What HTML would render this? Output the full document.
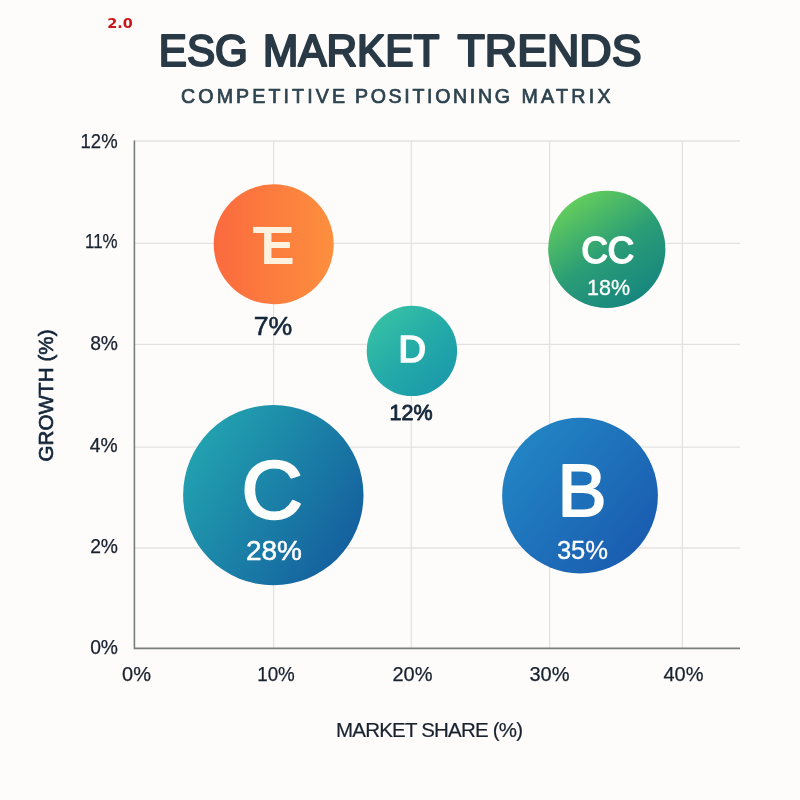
<!DOCTYPE html>
<html lang="en">
<head>
<meta charset="utf-8">
<title>ESG Market Trends</title>
<style>
html,body{margin:0;padding:0;background:#fdfcfa;}
body{width:800px;height:800px;overflow:hidden;}
svg{display:block;}
text{font-family:"Liberation Sans",sans-serif;}
.tick{font-size:19.3px;fill:#19222f;stroke:#19222f;stroke-width:0.25;}
.axis{font-size:18px;fill:#19222f;stroke:#19222f;stroke-width:0.2;}
.w{fill:#fefefd;stroke:#fefefd;stroke-linejoin:round;}
.d{fill:#14263a;stroke:#14263a;stroke-linejoin:round;}
</style>
</head>
<body>
<svg width="800" height="800" viewBox="0 0 800 800">
<defs>
<linearGradient id="gE" x1="0" y1="0" x2="1" y2="0"><stop offset="0" stop-color="#fb6a3e"/><stop offset="1" stop-color="#fd8f3e"/></linearGradient>
<linearGradient id="gD" x1="0.15" y1="0.1" x2="0.85" y2="0.9"><stop offset="0" stop-color="#36c0a5"/><stop offset="0.5" stop-color="#24aba8"/><stop offset="1" stop-color="#1c99aa"/></linearGradient>
<linearGradient id="gCC" x1="0.2" y1="0.05" x2="0.8" y2="0.95"><stop offset="0" stop-color="#66d05b"/><stop offset="0.52" stop-color="#2b9d76"/><stop offset="1" stop-color="#15857f"/></linearGradient>
<linearGradient id="gC" x1="0.05" y1="0.2" x2="0.95" y2="0.78"><stop offset="0" stop-color="#22a3b0"/><stop offset="1" stop-color="#145f9e"/></linearGradient>
<linearGradient id="gB" x1="0.1" y1="0.15" x2="0.92" y2="0.82"><stop offset="0" stop-color="#2285c4"/><stop offset="1" stop-color="#1a5cb0"/></linearGradient>
</defs>
<rect width="800" height="800" fill="#fdfcfa"/>

<!-- watermark -->
<text id="wm" x="107.2" y="27.6" style="font-family:'DejaVu Sans',sans-serif;font-weight:bold;font-size:14.4px;fill:#cc1519;">2.0</text>

<!-- titles -->
<g style="font-size:44px;fill:#293a46;stroke:#293a46;stroke-width:2.2;stroke-linejoin:round;">
<text id="t1" x="158.8" y="66" textLength="89" lengthAdjust="spacingAndGlyphs">ESG</text>
<text id="t2" x="263" y="66" textLength="176.5" lengthAdjust="spacingAndGlyphs">MARKET</text>
<text id="t3" x="457.5" y="66" textLength="184" lengthAdjust="spacingAndGlyphs">TRENDS</text>
</g>
<g style="font-size:19.6px;fill:#2d434f;stroke:#2d434f;stroke-width:0.7;">
<text id="s1" x="181" y="103.3" textLength="164" lengthAdjust="spacing">COMPETITIVE</text>
<text id="s2" x="355" y="103.3" textLength="155" lengthAdjust="spacing">POSITIONING</text>
<text id="s3" x="521.5" y="103.3" textLength="89" lengthAdjust="spacing">MATRIX</text>
</g>

<!-- grid -->
<g stroke="#e3e2e0" stroke-width="1.3" fill="none">
<path d="M134 141H740M134 243.3H740M134 344.4H740M134 447.1H740M134 548H740"/>
<path d="M273.6 141V648M411.3 141V648M549.6 141V648M682.4 141V648"/>
</g>
<path d="M134.4 140.5V648.4H740" stroke="#787d7d" stroke-width="1.6" fill="none"/>

<!-- y ticks -->
<g class="tick" text-anchor="end">
<text id="y12" x="117.6" y="147.5" textLength="37" lengthAdjust="spacingAndGlyphs">12%</text>
<text id="y11" x="117.6" y="248" textLength="32.6" lengthAdjust="spacingAndGlyphs">11%</text>
<text id="y8" x="118" y="350">8%</text>
<text id="y4" x="117.6" y="452.2">4%</text>
<text id="y2" x="118" y="552.7">2%</text>
<text id="y0" x="118" y="654">0%</text>
</g>
<!-- x ticks -->
<g class="tick" text-anchor="middle" style="font-size:20px">
<text id="x0" x="136.5" y="680.5">0%</text>
<text id="x10" x="276" y="680.5" textLength="37.6" lengthAdjust="spacingAndGlyphs">10%</text>
<text id="x20" x="412.5" y="680.5">20%</text>
<text id="x30" x="549.5" y="680.5">30%</text>
<text id="x40" x="683.5" y="680.5">40%</text>
</g>
<text id="xl" class="axis" x="336" y="737" textLength="187" lengthAdjust="spacing" style="font-size:20.5px">MARKET SHARE (%)</text>
<text id="yl" class="d" transform="translate(53.2,461.5) rotate(-90)" textLength="132" lengthAdjust="spacing" style="font-size:20.5px;stroke-width:0.7">GROWTH (%)</text>

<!-- bubbles -->
<circle cx="273.7" cy="244.3" r="60" fill="url(#gE)"/>
<circle cx="411.9" cy="350.9" r="45.2" fill="url(#gD)"/>
<circle cx="606.8" cy="249.3" r="58.6" fill="url(#gCC)"/>
<circle cx="273.3" cy="495.1" r="90.2" fill="url(#gC)"/>
<circle cx="580" cy="495.6" r="77.9" fill="url(#gB)"/>

<text id="bE" transform="translate(277.6,263.8) scale(0.94,1)" text-anchor="middle" class="w" style="font-weight:bold;font-size:53.7px;stroke-width:0;fill:#fdf1e0;stroke:#fdf1e0">E</text>
<rect x="253.1" y="226.9" width="12" height="6.1" fill="#fdf1e0"/>
<text id="pE" x="273" y="335.4" text-anchor="middle" class="d" style="font-size:26.7px;stroke-width:0.6">7%</text>
<text id="bD" transform="translate(412.2,362.4) scale(1.05,1)" text-anchor="middle" class="w" style="font-size:36.2px;stroke-width:1.7">D</text>
<text id="pD" x="411" y="420.4" text-anchor="middle" class="d" style="font-size:21.5px;stroke-width:0.9">12%</text>
<text id="bCC" x="607.8" y="262.9" textLength="52.6" lengthAdjust="spacingAndGlyphs" text-anchor="middle" class="w" style="font-size:37.5px;stroke-width:1.9">CC</text>
<text id="pCC" x="608.5" y="295" text-anchor="middle" class="w" style="font-size:21.5px;stroke-width:0.3">18%</text>
<text id="bC" transform="translate(272,518) scale(1.04,1)" text-anchor="middle" class="w" style="font-size:81.5px;stroke-width:2.5">C</text>
<text id="pC" x="274" y="559.8" text-anchor="middle" class="w" style="font-size:28px;stroke-width:0.5">28%</text>
<text id="bB" x="582" y="516.3" text-anchor="middle" class="w" style="font-size:73.5px;stroke-width:2">B</text>
<text id="pB" x="582.5" y="559.1" text-anchor="middle" class="w" style="font-size:25.6px;stroke-width:0.3">35%</text>
</svg>
</body>
</html>
